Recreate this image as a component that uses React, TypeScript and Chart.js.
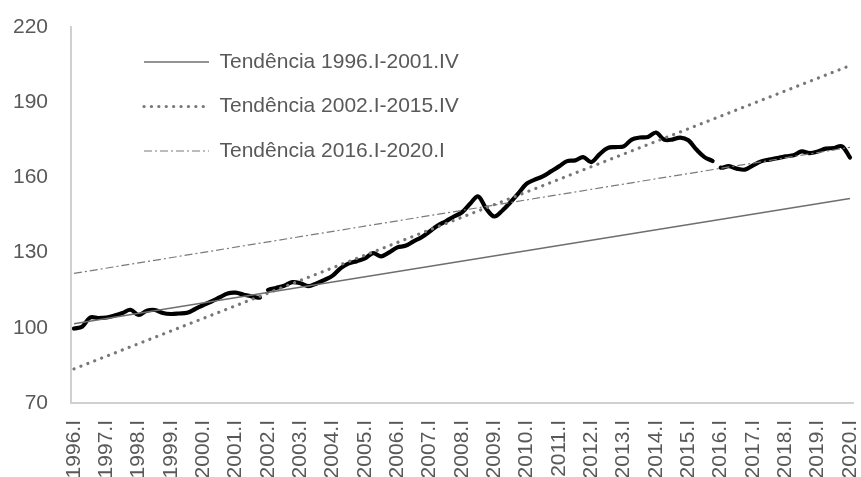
import React, { useEffect, useRef } from "react";
import { Chart, registerables } from "chart.js";

Chart.register(...registerables);

// ---- Data ----
const years = [1996, 1997, 1998, 1999, 2000, 2001, 2002, 2003, 2004, 2005, 2006, 2007, 2008, 2009, 2010, 2011, 2012, 2013, 2014, 2015, 2016, 2017, 2018, 2019, 2020];
const quarterNames = ["I", "II", "III", "IV"];
const quarters: string[] = [];
years.forEach((y) => quarterNames.forEach((q) => { if (y < 2020 || q === "I") quarters.push(`${y}.${q}`); }));

const indexValues = [
  99.7, 100.4, 104.1, 103.9, 104.1, 104.9, 105.9, 107.2, 105.1, 106.8, 107.1, 105.9,
  105.5, 105.7, 106.0, 107.5, 109.1, 110.5, 112.1, 113.7, 114.0, 113.2, 112.5, 112.1,
  115.1, 115.9, 116.8, 118.2, 117.8, 116.6, 117.7, 119.1, 120.8, 123.8, 125.7, 126.6,
  127.7, 129.8, 128.5, 130.1, 132.1, 132.7, 134.5, 136.1, 138.4, 140.8, 142.5, 144.4,
  146.1, 149.5, 152.4, 147.5, 144.4, 146.8, 150.1, 153.7, 157.5, 159.1, 160.4, 162.4,
  164.4, 166.5, 166.8, 168.1, 166.1, 169.2, 171.7, 172.1, 172.4, 175.1, 175.9, 176.1,
  177.9, 175.1, 175.1, 175.9, 174.8, 171.1, 168.1, 166.5, 163.9, 164.5, 163.5, 163.1,
  164.8, 166.4, 167.1, 167.7, 168.4, 168.8, 170.4, 169.7, 170.3, 171.5, 171.7, 172.4,
  167.9,
];
// the series is interrupted between these quarters and the next one
const breakAfter = ["2001.IV", "2015.IV"];

const trendNames = ["Tendência 1996.I-2001.IV", "Tendência 2002.I-2015.IV", "Tendência 2016.I-2020.I"];
const trendStart = [101.6, 83.6, 121.7]; // value at 1996.I
const trendEnd = [151.6, 204.6, 172.0]; // value at 2020.I

const yTicks = [70, 100, 130, 160, 190, 220];

// ---- Style ----
const FONT = { family: "'Liberation Sans', Arial, sans-serif", size: 21 };
const TEXT = "#595959";
const AXIS = "#d0d0d0";

const trendStyles = [
  { borderColor: "#6e6e6e", borderWidth: 1.4, borderDash: [] as number[], borderCapStyle: "butt" },
  { borderColor: "#777777", borderWidth: 3.2, borderDash: [0.1, 7.3], borderCapStyle: "round" },
  { borderColor: "#7a7a7a", borderWidth: 1.2, borderDash: [8, 3, 2, 3], borderCapStyle: "butt" },
];

const legendOffset = {
  id: "legendOffset",
  afterLayout(chart: any) {
    const lg = chart.legend;
    const ca = chart.chartArea;
    if (!lg || !ca) return;
    lg.left = ca.left + 49.5;
    lg.right = ca.right;
    lg.top = ca.top + 1;
    lg.bottom = ca.bottom;
  },
};

export default function App() {
  const ref = useRef<HTMLCanvasElement>(null);

  useEffect(() => {
    if (!ref.current) return;
    const last = quarters.length - 1;
    const trendSets = trendNames.map((name, k) => ({
      label: name,
      data: [
        { x: 0, y: trendStart[k] },
        { x: last, y: trendEnd[k] },
      ],
      ...trendStyles[k],
      pointRadius: 0,
      pointStyle: "line",
      tension: 0,
      fill: false,
    }));
    const chart = new Chart(ref.current, {
      type: "line",
      data: {
        datasets: [
          ...trendSets,
          {
            label: "Índice",
            data: indexValues.map((v, i) => ({ x: i, y: v })),
            borderColor: "#000000",
            borderWidth: 4.2,
            pointRadius: 0,
            tension: 0.35,
            borderCapStyle: "round",
            borderJoinStyle: "round",
            fill: false,
            segment: {
              borderColor: (ctx: any) =>
                breakAfter.includes(quarters[ctx.p0DataIndex]) ? "rgba(0,0,0,0)" : "#000000",
            },
          },
        ] as any,
      },
      options: {
        responsive: false,
        animation: false,
        devicePixelRatio: 1,
        layout: { padding: { top: 27, right: 8, left: 0, bottom: 0 } },
        plugins: {
          legend: {
            position: "chartArea" as any,
            align: "start",
            labels: {
              usePointStyle: true,
              pointStyleWidth: 65,
              padding: 23.5,
              color: TEXT,
              font: FONT,
              generateLabels: (ch: any) =>
                ch.data.datasets.slice(0, trendNames.length).map((ds: any, i: number) => ({
                  text: ds.label,
                  fillStyle: "rgba(0,0,0,0)",
                  strokeStyle: ds.borderColor,
                  lineWidth: ds.borderWidth,
                  lineDash: ds.borderDash,
                  lineCap: ds.borderCapStyle,
                  lineJoin: "miter",
                  pointStyle: "line",
                  fontColor: TEXT,
                  hidden: false,
                  datasetIndex: i,
                })),
            },
          },
          tooltip: { enabled: false },
        },
        scales: {
          x: {
            type: "linear",
            min: -0.37,
            max: quarters.length - 1 + 0.37,
            grid: { display: false, drawTicks: false },
            border: { display: true, color: AXIS, width: 2 },
            ticks: {
              autoSkip: false,
              minRotation: 90,
              maxRotation: 90,
              padding: 17,
              color: TEXT,
              font: FONT,
              callback: (v: any) => quarters[v as number] ?? "",
            },
            afterBuildTicks: (s: any) => {
              s.ticks = quarters.map((_, i) => i).filter((i) => i % 4 === 0).map((v) => ({ value: v }));
            },
            afterFit: (s: any) => {
              s.height = 74;
              s.paddingLeft = 0;
              s.paddingRight = 0;
            },
          },
          y: {
            min: yTicks[0],
            max: yTicks[yTicks.length - 1],
            grid: { display: false, drawTicks: false },
            border: { display: true, color: AXIS, width: 2 },
            ticks: { padding: 23, color: TEXT, font: FONT },
            afterBuildTicks: (s: any) => {
              s.ticks = yTicks.map((v) => ({ value: v }));
            },
            afterFit: (s: any) => {
              s.width = 71;
              s.paddingTop = 0;
              s.paddingBottom = 0;
            },
          },
        },
      } as any,
      plugins: [legendOffset],
    });
    return () => chart.destroy();
  }, []);

  return (
    <div style={{ position: "absolute", left: 0, top: 0, width: 861, height: 477, background: "#ffffff" }}>
      <canvas ref={ref} width={861} height={477} style={{ display: "block" }} />
    </div>
  );
}
